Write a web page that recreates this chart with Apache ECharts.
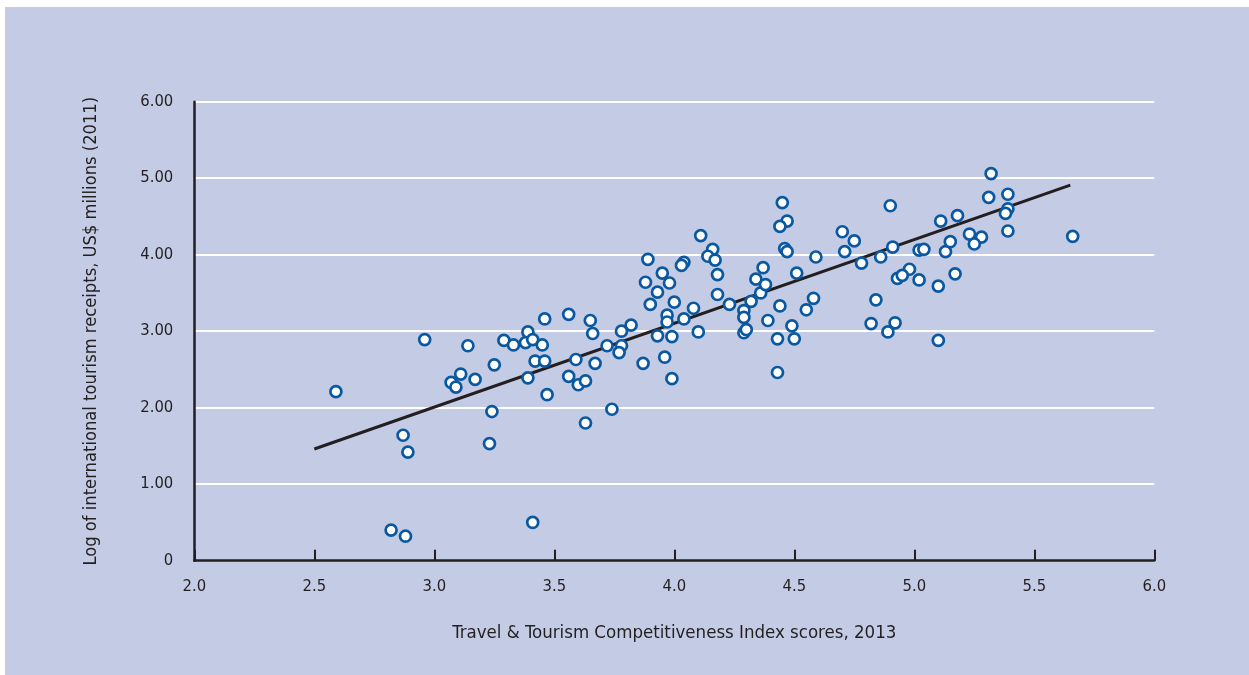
<!DOCTYPE html>
<html>
<head>
<meta charset="utf-8">
<script src="https://cdn.jsdelivr.net/npm/echarts@6/dist/echarts.min.js"></script>
<style>
  html, body { margin: 0; padding: 0; background: #ffffff; }
  #chart { width: 1249px; height: 675px; }
</style>
</head>
<body>
<div id="chart"></div>
<script>
// Travel & Tourism Competitiveness Index scores, 2013
const xScores = [
  2.59, 2.82, 2.88, 2.87, 2.89, 2.96, 3.14, 3.11, 3.07, 3.09,
  3.17, 3.25, 3.24, 3.23, 3.29, 3.33, 3.39, 3.38, 3.41, 3.45,
  3.46, 3.56, 3.42, 3.46, 3.39, 3.47, 3.41, 3.59, 3.56, 3.60,
  3.63, 3.63, 3.65, 3.66, 3.67, 3.74, 3.72, 3.78, 3.77, 3.82,
  3.78, 3.87, 3.96, 3.99, 3.93, 3.99, 4.10, 3.90, 4.00, 4.08,
  3.97, 3.97, 4.04, 3.93, 3.88, 3.98, 3.95, 3.89, 4.04, 4.03,
  4.11, 4.16, 4.14, 4.17, 4.18, 4.18, 4.23, 4.32, 4.29, 4.29,
  4.29, 4.30, 4.36, 4.34, 4.38, 4.37, 4.51, 4.44, 4.39, 4.43,
  4.49, 4.50, 4.55, 4.58, 4.43, 4.45, 4.47, 4.44, 4.46, 4.47,
  4.59, 4.70, 4.75, 4.71, 4.78, 4.86, 4.84, 4.82, 4.92, 4.89,
  5.10, 4.90, 4.91, 5.02, 5.04, 5.13, 4.98, 4.93, 4.95, 5.02,
  5.10, 5.17, 5.15, 5.11, 5.18, 5.23, 5.28, 5.25, 5.32, 5.31,
  5.39, 5.39, 5.38, 5.39, 5.66
];
// Log of international tourism receipts, US$ millions (2011)
const logReceipts = [
  2.21, 0.40, 0.32, 1.64, 1.42, 2.89, 2.81, 2.44, 2.33, 2.27,
  2.37, 2.56, 1.95, 1.53, 2.88, 2.82, 2.99, 2.85, 2.89, 2.82,
  3.16, 3.22, 2.61, 2.61, 2.39, 2.17, 0.50, 2.63, 2.41, 2.30,
  2.35, 1.80, 3.14, 2.97, 2.58, 1.98, 2.81, 2.81, 2.72, 3.08,
  3.00, 2.58, 2.66, 2.38, 2.94, 2.93, 2.99, 3.35, 3.38, 3.30,
  3.21, 3.12, 3.16, 3.51, 3.64, 3.63, 3.76, 3.94, 3.90, 3.86,
  4.25, 4.07, 3.98, 3.93, 3.74, 3.48, 3.35, 3.39, 3.27, 3.18,
  2.98, 3.02, 3.50, 3.68, 3.61, 3.83, 3.76, 3.33, 3.14, 2.90,
  3.07, 2.90, 3.28, 3.43, 2.46, 4.68, 4.44, 4.37, 4.08, 4.04,
  3.97, 4.30, 4.18, 4.04, 3.89, 3.97, 3.41, 3.10, 3.11, 2.99,
  2.88, 4.64, 4.10, 4.06, 4.07, 4.04, 3.81, 3.69, 3.73, 3.67,
  3.59, 3.75, 4.17, 4.44, 4.51, 4.27, 4.23, 4.14, 5.06, 4.75,
  4.79, 4.60, 4.54, 4.31, 4.24
];
// Fitted trend line end points
const trendX = [2.50, 5.65];
const trendY = [1.46, 4.91];

const xTickLabels = ['2.0', '2.5', '3.0', '3.5', '4.0', '4.5', '5.0', '5.5', '6.0'];
const yTickLabels = ['0', '1.00', '2.00', '3.00', '4.00', '5.00', '6.00'];

const xTitle = 'Travel & Tourism Competitiveness Index scores, 2013';
const yTitle = 'Log of international tourism receipts, US$ millions (2011)';

const FONT = "'Liberation Sans Narrow', 'DejaVu Sans Condensed', 'Roboto', sans-serif";
const TEXT = '#231f20';

const chart = echarts.init(document.getElementById('chart'), null, { renderer: 'canvas' });

const points = xScores.map((x, i) => [x, logReceipts[i]]);
const trend = trendX.map((x, i) => [x, trendY[i]]);

chart.setOption({
  animation: false,
  backgroundColor: '#ffffff',
  graphic: [{
    type: 'rect',
    left: 5, top: 7,
    shape: { width: 1244, height: 668 },
    style: { fill: '#c4cbe4' },
    z: -10,
    silent: true
  }],
  grid: { left: 194.3, right: 94.7, top: 101.7, bottom: 114.3, containLabel: false },
  xAxis: {
    type: 'value',
    min: 2, max: 6, interval: 0.5,
    name: xTitle,
    nameLocation: 'middle',
    nameGap: 63,
    nameTextStyle: { color: TEXT, fontFamily: FONT, fontSize: 18.5 },
    axisLine: { show: true, onZero: false, lineStyle: { color: TEXT, width: 2.5 } },
    axisTick: { show: true, inside: true, length: 11, lineStyle: { color: TEXT, width: 2 } },
    axisLabel: {
      color: TEXT, fontFamily: FONT, fontSize: 16.5, margin: 18,
      formatter: (v) => xTickLabels[Math.round((v - 2) / 0.5)]
    },
    splitLine: { show: false }
  },
  yAxis: {
    type: 'value',
    min: 0, max: 6, interval: 1,
    name: yTitle,
    nameLocation: 'middle',
    nameRotate: 90,
    nameGap: 94.5,
    nameTextStyle: { color: TEXT, fontFamily: FONT, fontSize: 18.2 },
    axisLine: { show: true, lineStyle: { color: TEXT, width: 2.5 } },
    axisTick: { show: false },
    axisLabel: {
      color: TEXT, fontFamily: FONT, fontSize: 16.5, margin: 21,
      formatter: (v) => yTickLabels[Math.round(v)]
    },
    splitLine: {
      show: true,
      lineStyle: { color: '#ffffff', width: 2 },
      showMinLine: false
    }
  },
  series: [
    {
      type: 'line',
      data: trend,
      symbol: 'none',
      lineStyle: { color: TEXT, width: 3 },
      z: 2,
      silent: true
    },
    {
      type: 'scatter',
      data: points,
      symbol: 'circle',
      symbolSize: 11,
      itemStyle: { color: '#ffffff', borderColor: '#0a58a0', borderWidth: 2.7, opacity: 1 },
      z: 3
    }
  ]
});
</script>
</body>
</html>
